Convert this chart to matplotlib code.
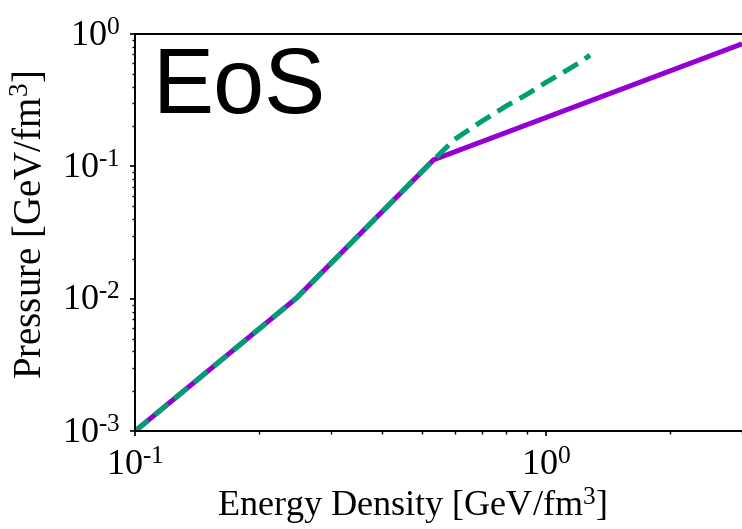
import matplotlib

matplotlib.use("Agg")
import matplotlib.pyplot as plt
from matplotlib.ticker import FixedLocator, LogLocator, NullFormatter

# (GeV/fm^3)
eps_stiff = [0.1, 0.247, 0.533, 3.0]
p_stiff = [0.001, 0.0101, 0.112, 0.84]

eps_soft = [0.1, 0.247, 0.533, 0.6, 0.7, 0.8, 0.9, 1.0, 1.1, 1.2, 1.28]
p_soft = [0.001, 0.0101, 0.112, 0.16, 0.22, 0.285, 0.35, 0.43, 0.51, 0.6, 0.69]

x_ticks = [0.1, 1.0]
x_tick_labels = [r"$10^{\text{-}1}$", r"$10^{0}$"]
y_ticks = [0.001, 0.01, 0.1, 1.0]
y_tick_labels = [r"$10^{\text{-}3}$", r"$10^{\text{-}2}$", r"$10^{\text{-}1}$", r"$10^{0}$"]

plt.rcParams["font.family"] = ["Liberation Serif", "DejaVu Serif"]
plt.rcParams["mathtext.fontset"] = "custom"
plt.rcParams["mathtext.rm"] = "Liberation Serif"
plt.rcParams["mathtext.it"] = "Liberation Serif:italic"

fig = plt.figure(figsize=(7.42, 5.29), dpi=100)
ax = fig.add_axes([0.182, 0.185, 0.818, 0.751])

ax.plot(eps_stiff, p_stiff, color="#9400d3", linewidth=3.6, solid_capstyle="butt")
ax.plot(eps_soft, p_soft, color="#009e73", linewidth=3.6, dashes=(3.4, 1.7))

ax.set_xscale("log")
ax.set_yscale("log")
ax.set_xlim(0.1, 3.0)
ax.set_ylim(0.001, 1.0)

ax.xaxis.set_major_locator(FixedLocator(x_ticks))
ax.set_xticklabels(x_tick_labels)
ax.yaxis.set_major_locator(FixedLocator(y_ticks))
ax.set_yticklabels(y_tick_labels)
ax.xaxis.set_minor_locator(LogLocator(base=10, subs=range(2, 10)))
ax.yaxis.set_minor_locator(LogLocator(base=10, subs=range(2, 10)))
ax.xaxis.set_minor_formatter(NullFormatter())
ax.yaxis.set_minor_formatter(NullFormatter())

ax.tick_params(which="major", direction="out", length=3.8, width=1.2, labelsize=26)
ax.tick_params(which="minor", direction="out", length=2.2, width=1.0)
ax.tick_params(axis="x", which="major", pad=10)
ax.tick_params(axis="y", which="major", pad=7)
ax.tick_params(top=False, right=False)

for side in ("left", "bottom", "top"):
    ax.spines[side].set_linewidth(1.4)
ax.spines["right"].set_visible(False)

ax.set_xlabel(r"Energy Density [GeV/fm$^3$]", fontsize=26)
ax.set_ylabel(r"Pressure [GeV/fm$^3$]", fontsize=28)
ax.xaxis.set_label_coords(0.456, -0.138)
ax.yaxis.set_label_coords(-0.138, 0.52)

ax.text(0.029, 0.86, "EoS", transform=ax.transAxes, fontsize=66,
        family=["Liberation Sans", "DejaVu Sans"], va="center", ha="left")

fig.savefig("out.png", dpi=100)
plt.close(fig)
